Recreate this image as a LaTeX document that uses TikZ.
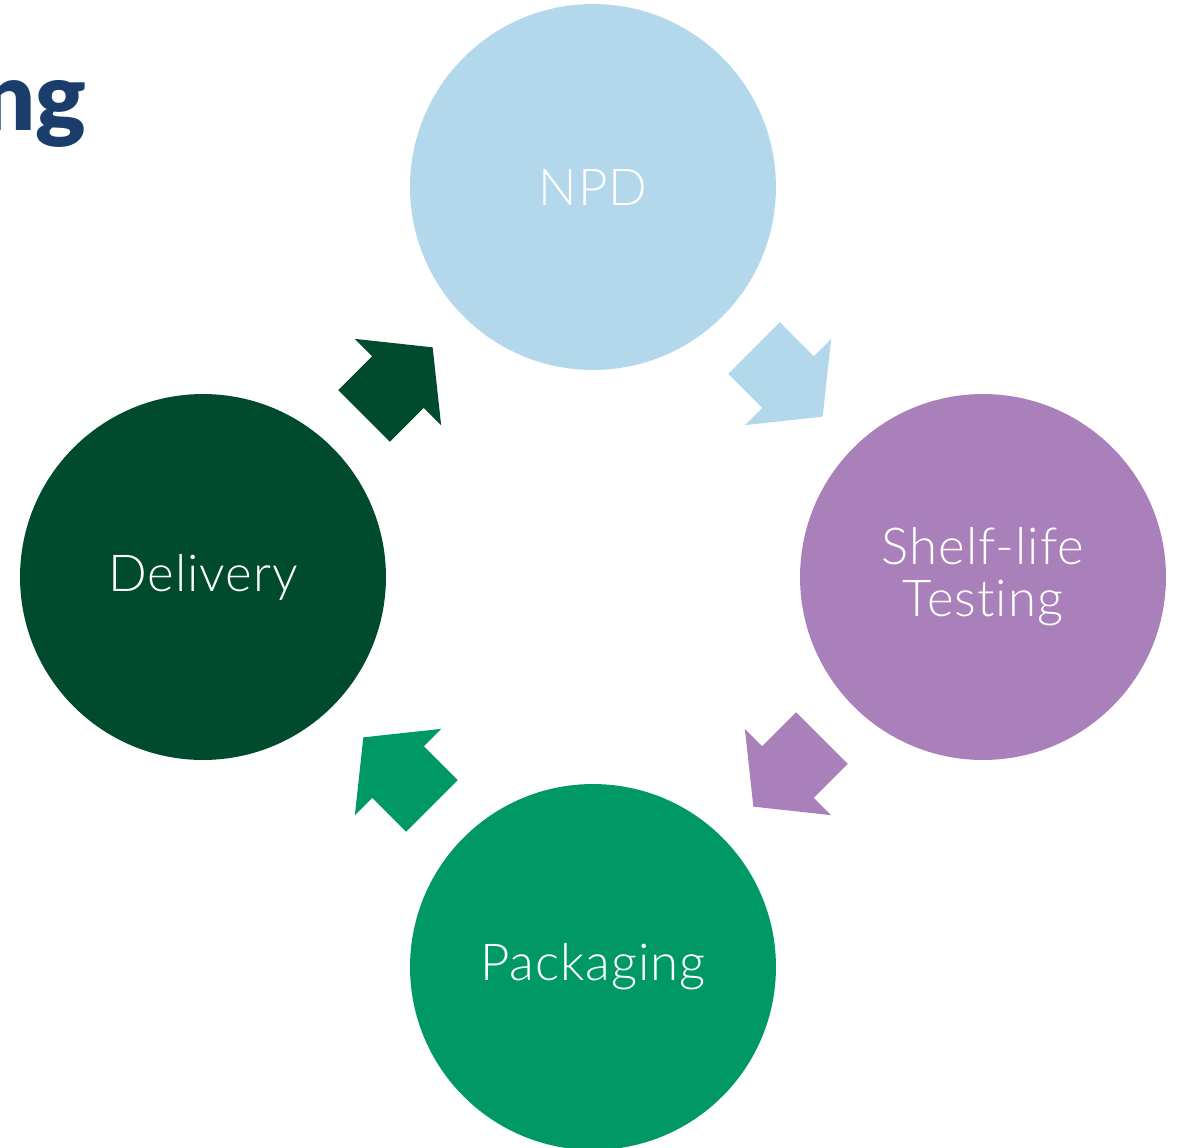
\documentclass[tikz,border=0pt]{standalone}
\usepackage{fontspec}
\setmainfont{Lato Light}[LetterSpace=2,Ligatures={NoCommon}]
\newfontfamily\headfont{Lato Black}
\usepackage{tikz}
\usetikzlibrary{positioning,calc}

\definecolor{npdblue}{RGB}{179,215,235}
\definecolor{shelfpurple}{RGB}{169,128,185}
\definecolor{packgreen}{RGB}{0,153,102}
\definecolor{delivgreen}{RGB}{0,74,45}
\definecolor{headblue}{RGB}{26,61,107}

\tikzstyle{stage}=[shape=circle,minimum size=7.32cm,inner sep=0,text=white,align=center,font=\fontsize{29}{29.6}\selectfont]

% block arrow half way between two stages: from, to, angle, colour
\newcommand{\cyclearrow}[4]{
\begin{scope}[shift={($(#1)!0.5!(#2)$)},rotate=#3]
\fill[#4] (-48,-36.5) -- (0,-36.5) -- (0,-61) -- (49,0) -- (0,61) -- (0,36.5) -- (-48,36.5) -- cycle;
\end{scope}
}

\begin{document}
\begin{tikzpicture}[x=0.02cm,y=-0.02cm]
\useasboundingbox (0,0) rectangle (1177,1147);

% heading, cut off at the left
\node[anchor=base east,inner sep=0,text=headblue,font=\headfont\fontsize{54}{54}\selectfont] (head) at (87,130) {ng};

% the four stages
\node[stage,fill=npdblue]     (npd)   at (593,187) {NPD};
\node[stage,fill=shelfpurple] (shelf) at (983,577) {Shelf-life\\Testing};
\node[stage,fill=packgreen]   (pack)  at (593,967) {Packaging};
\node[stage,fill=delivgreen]  (deliv) at (203,577) {Delivery};

% arrows round the cycle
\cyclearrow{npd}{shelf}{-45}{npdblue}
\cyclearrow{shelf}{pack}{-135}{shelfpurple}
\cyclearrow{pack}{deliv}{135}{packgreen}
\cyclearrow{deliv}{npd}{45}{delivgreen}

\end{tikzpicture}
\end{document}
